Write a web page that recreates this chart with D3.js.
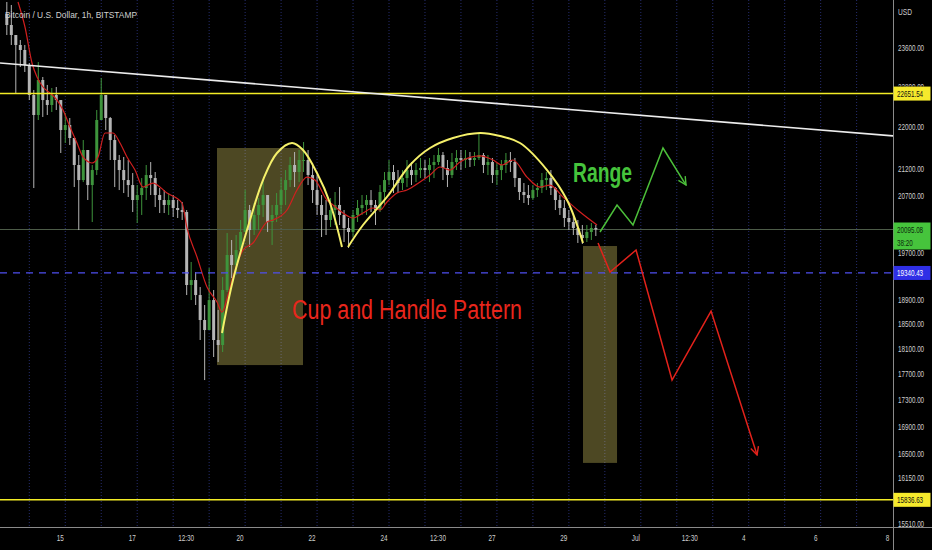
<!DOCTYPE html>
<html><head><meta charset="utf-8">
<script src="https://cdn.jsdelivr.net/npm/d3@7"></script>
<style>html,body{margin:0;padding:0;background:#000;overflow:hidden}svg{display:block}</style>
</head><body><svg id="c" width="932" height="550"></svg>
<script>
// ---------- DATA ----------
const title = "Bitcoin / U.S. Dollar, 1h, BITSTAMP";
// 3-hour candles, starting June 13 09:00 (day-of-June units)
const candleStartDay = 13.375;
const candleStepDays = 0.125;
const firstOpen = 24300;
const candleClose = [
24062,23851,23642,23538,23229,22623,22228,22924,22523,22425,
22623,22523,21936,22033,21782,21270,20990,21553,20898,21176,
22130,22623,22169,21743,21364,21176,20990,20898,20624,20715,
20843,21083,21027,20715,20624,20534,20624,20479,20443,20407,
19136,19220,18968,18555,18392,18884,18231,18151,19052,19649,
19476,19735,20051,20443,20086,20354,20534,20715,20228,20354,
20534,20806,20990,21270,21139,21364,21364,21083,20806,20534,
20354,20264,20443,20534,20354,20122,20051,20354,20479,20534,
20624,20534,20443,20770,20990,21139,20990,20935,21027,21176,
21083,21176,21214,21176,21270,21326,21458,21214,21083,21326,
21402,21364,21402,21364,21402,21458,21270,21326,21083,21176,
21270,21364,21326,21027,20770,20715,20660,20806,20843,20990,
21027,20843,20624,20479,20300,20228,20122,19998,19945,20051,
20122,20095];
const candleHigh = [
24555,24490,23788,23746,23642,23270,22723,23290,22985,22824,
22763,22783,22523,22267,22169,21782,21458,21743,21553,21270,
22326,22965,22623,22189,21840,21458,21421,21364,21120,20898,
21027,21270,21326,21139,20843,20806,20751,20715,20624,20588,
20443,19528,19356,19102,18802,19424,19052,18719,19271,20033,
19910,19998,20264,20806,20534,20570,20660,20990,20715,20534,
20751,21027,21176,21421,21515,21553,21705,21553,21308,21083,
20715,20624,20660,20770,20861,20443,20300,20443,20624,20715,
20715,20806,20624,20898,21139,21364,21270,21176,21176,21364,
21326,21308,21402,21364,21402,21458,21591,21515,21364,21496,
21553,21553,21553,21515,21515,21878,21496,21458,21402,21308,
21364,21496,21515,21402,21027,20935,20898,20898,20935,21120,
21139,21176,20861,20715,20624,20443,20354,20264,20175,20175,
20211,20175];
const candleLow = [
23851,23642,22663,23188,23086,22523,20843,22130,22189,22228,
22287,22326,21496,21686,21648,20861,20086,20953,20624,20228,
21083,22169,21936,21364,20861,20806,20751,20679,20407,20211,
20354,20624,20715,20497,20389,20389,20354,20318,20300,20264,
18968,18884,18802,18231,17599,18392,17960,17881,18039,19018,
19254,19305,19649,20051,19788,19998,20086,20318,20051,19823,
20228,20389,20534,20861,20861,20953,21139,20898,20570,20354,
19963,19998,20139,20175,20175,19875,19770,19963,20228,20354,
20354,20407,20175,20407,20534,20898,20751,20751,20806,20861,
20898,20953,21027,21027,20953,21027,21270,20990,20861,21027,
21176,21176,21214,21233,21251,21364,21120,21083,20935,20898,
20990,21120,21139,20861,20624,20570,20534,20624,20679,20751,
20806,20715,20443,20354,20139,20086,19998,19858,19840,19875,
19910,19980];

// moving average: [day, price]
const maLine = [
[13.686,24555],[13.880,24020],[14.075,23270],[14.214,22985],[14.381,22783],[14.575,22663],
[14.770,22523],[14.937,22326],[15.131,21994],[15.326,21686],[15.493,21421],[15.743,21308],
[15.910,21421],[16.105,21878],[16.327,21878],[16.522,21686],[16.716,21421],[16.939,21176],
[17.161,20861],[17.439,20935],[17.828,20751],[18.245,20570],[18.384,20122],[18.662,19614],
[18.940,19102],[19.218,18851],[19.357,18686],[19.524,18968],[19.663,19271],[19.941,19735],
[20.219,19858],[20.608,20228],[20.775,20264],[21.164,20443],[21.442,20806],[21.720,21045],
[21.942,20990],[22.276,20624],[22.443,20534],[22.721,20389],[22.999,20300],[23.277,20389],
[23.555,20479],[23.750,20443],[23.944,20588],[24.222,20751],[24.500,20806],[24.862,20953],
[25.140,21083],[25.418,21233],[25.696,21176],[25.974,21326],[26.530,21440],[26.891,21364],
[27.142,21270],[27.447,21364],[27.836,21045],[28.198,20861],[28.476,20898],[28.837,20679],
[29.310,20407],[29.783,20175]];

// price axis ticks (visible ones; 20100 and 19300 sit under the price tags)
const priceTicks = [23600,22800,22000,21200,20700,19700,18900,18500,18100,17700,17300,16900,16500,16150,15510];
// time axis labels [day-of-June, label]
const timeLabels = [[15,"15"],[17,"17"],[18.5,"12:30"],[20,"20"],[22,"22"],[24,"24"],[25.5,"12:30"],[27,"27"],[29,"29"],[31,"Jul"],[32.5,"12:30"],[34,"4"],[36,"6"],[38,"8"]];
const gridDays = [14,15,16,17,18,19,20,21,22,23,24,25,26,27,28,29,30,31,32,33,34,35,36,37];

// levels
const resistanceLevel = 22651.54;
const supportLevel = 15836.63;
const dashedLevel = 19340.43;
const lastPrice = 20095.08;
const countdown = "38:20";

// drawings
const trendLine = [[13.185,23270],[38.012,21822]];
const boxes = [
  {d0:19.218, d1:21.609, p0:21591, p1:17833},
  {d0:29.393, d1:30.339, p0:19805, p1:16360}];
const cupArc1 = [[19.357,18344],[19.663,19220],[20.136,20264],[20.497,20990],[20.886,21496],
  [21.303,21686],[21.609,21553],[21.998,21120],[22.360,20570],[22.693,19788]];
const cupArc2 = [[22.860,19788],[23.277,20175],[23.944,20679],[24.584,21270],[25.140,21591],
  [25.779,21782],[26.530,21878],[27.086,21820],[27.642,21686],[28.393,21176],[28.949,20624],[29.393,19858]];
const rangePath = [[29.866,20051],[30.339,20534],[30.783,20175],[31.617,21591],[32.257,20898]];
const dropPath = [[29.811,19858],[30.145,19356],[30.868,19735],[31.869,17599],[32.953,18702],[34.232,16475]];
const rangeText = {text:"Range", d:29.115, p:20953};
const patternText = {text:"Cup and Handle Pattern", d:21.303, p:18571};

// ---------- CHART ----------
const W = 932, H = 550, plotR = 893, plotB = 527;
const svg = d3.select('#c');
svg.append('rect').attr('width',W).attr('height',H).attr('fill','#000');
const x = d3.scaleLinear().domain([14,38]).range([29.3,892.6]);
const y = d3.scaleLog().domain([15462,24598]).range([plotB,0]);
const FONT = "'Liberation Sans', Arial, sans-serif";

const defs = svg.append('defs');
defs.append('clipPath').attr('id','plot').append('rect').attr('x',0).attr('y',0).attr('width',plotR).attr('height',plotB);
function marker(id,color){
  defs.append('marker').attr('id',id).attr('viewBox','0 0 10 10').attr('refX',9).attr('refY',5)
    .attr('markerWidth',10).attr('markerHeight',10).attr('markerUnits','userSpaceOnUse').attr('orient','auto')
    .append('path').attr('d','M1,1 L9,5 L1,9').attr('fill','none').attr('stroke',color).attr('stroke-width',1.4);
}
marker('arrG','#4cbf3a'); marker('arrR','#e3221b');

const g = svg.append('g').attr('clip-path','url(#plot)');

// grid
g.selectAll('line.grid').data(gridDays).join('line').attr('class','grid')
  .attr('x1',d=>x(d)).attr('x2',d=>x(d)).attr('y1',0).attr('y2',plotB)
  .attr('stroke','#262d6e').attr('stroke-width',1).attr('stroke-dasharray','1,2');

// boxes
g.selectAll('rect.box').data(boxes).join('rect').attr('class','box')
  .attr('x',d=>x(d.d0)).attr('width',d=>x(d.d1)-x(d.d0))
  .attr('y',d=>y(d.p0)).attr('height',d=>y(d.p1)-y(d.p0))
  .attr('fill','rgb(255,240,115)').attr('fill-opacity',0.3);

// last price line
g.append('line').attr('x1',0).attr('x2',plotR).attr('y1',y(lastPrice)).attr('y2',y(lastPrice))
  .attr('stroke','#4d5c48').attr('stroke-width',1);

// candles
const candles = candleClose.map((c,i)=>{
  const o = i===0 ? firstOpen : candleClose[i-1];
  return {t:candleStartDay+i*candleStepDays, o, c,
    h:Math.max(candleHigh[i],o,c), l:Math.min(candleLow[i],o,c)};
});
const cg = g.append('g');
const cs = cg.selectAll('g').data(candles).join('g');
const col = d=> d.c>=d.o ? '#3e943c' : '#b5b5b5';
cs.append('line').attr('x1',d=>x(d.t)).attr('x2',d=>x(d.t)).attr('y1',d=>y(d.h)).attr('y2',d=>y(d.l))
  .attr('stroke',col).attr('stroke-width',1);
cs.append('rect').attr('x',d=>x(d.t)-1.5).attr('width',3)
  .attr('y',d=>Math.min(y(d.o),y(d.c))).attr('height',d=>Math.max(1,Math.abs(y(d.o)-y(d.c))))
  .attr('fill',col);

// moving average
const line = d3.line().x(d=>x(d[0])).y(d=>y(d[1]));
g.append('path').datum(maLine).attr('d',line.curve(d3.curveMonotoneX))
  .attr('fill','none').attr('stroke','#d11f1f').attr('stroke-width',1.2);

// levels
[resistanceLevel,supportLevel].forEach(p=>{
  g.append('line').attr('x1',0).attr('x2',plotR).attr('y1',y(p)).attr('y2',y(p))
    .attr('stroke','#f3ec26').attr('stroke-width',1.5);
});
g.append('line').attr('x1',0).attr('x2',plotR).attr('y1',y(dashedLevel)).attr('y2',y(dashedLevel))
  .attr('stroke','#4f4ff0').attr('stroke-width',1.2).attr('stroke-dasharray','7,6');

// trend line
g.append('path').datum(trendLine).attr('d',d3.line().x(d=>x(d[0])).y(d=>y(d[1])))
  .attr('fill','none').attr('stroke','#ececec').attr('stroke-width',1.6);

// cup arcs
const arc = d3.line().x(d=>x(d[0])).y(d=>y(d[1])).curve(d3.curveCatmullRom);
[cupArc1,cupArc2].forEach(a=>{
  g.append('path').datum(a).attr('d',arc).attr('fill','none').attr('stroke','#f5f06a').attr('stroke-width',2);
});

// projection paths
const straight = d3.line().x(d=>x(d[0])).y(d=>y(d[1]));
g.append('path').datum(rangePath).attr('d',straight).attr('fill','none')
  .attr('stroke','#4cbf3a').attr('stroke-width',1.5).attr('marker-end','url(#arrG)');
g.append('path').datum(dropPath).attr('d',straight).attr('fill','none')
  .attr('stroke','#e3221b').attr('stroke-width',1.5).attr('marker-end','url(#arrR)');

// texts
function squeezeTo(sel, len){ sel.attr('textLength',len).attr('lengthAdjust','spacingAndGlyphs'); }

squeezeTo(g.append('text').attr('x',x(rangeText.d)).attr('y',y(rangeText.p)).text(rangeText.text)
  .attr('fill','#46c43c').attr('font-family',FONT).attr('font-size',27).attr('font-weight','bold'), 59);
squeezeTo(g.append('text').attr('x',x(patternText.d)).attr('y',y(patternText.p)).text(patternText.text)
  .attr('fill','#e8261c').attr('font-family',FONT).attr('font-size',27), 230);

// title
squeezeTo(svg.append('text').attr('x',5).attr('y',18).text(title)
  .attr('fill','#d0d0d0').attr('font-family',FONT).attr('font-size',9.5), 132);

// axes lines
svg.append('line').attr('x1',plotR+0.5).attr('x2',plotR+0.5).attr('y1',0).attr('y2',H).attr('stroke','#8a8a8a');
svg.append('line').attr('x1',0).attr('x2',W).attr('y1',plotB+0.5).attr('y2',plotB+0.5).attr('stroke','#8a8a8a');

// narrow text helper (horizontal scale via transform)
function narrowText(parent, tx, ty, sx, str, opts){
  const t = parent.append('text').attr('transform',`translate(${tx},${ty}) scale(${sx},1)`)
    .attr('x',0).attr('y',0).text(str)
    .attr('fill',opts.fill).attr('font-family',FONT).attr('font-size',opts.size);
  if(opts.anchor) t.attr('text-anchor',opts.anchor);
  return t;
}

// price axis labels (22800 partly hidden under its tag)
defs.append('clipPath').attr('id','axisTop').append('rect').attr('x',plotR).attr('y',0).attr('width',W-plotR).attr('height',y(resistanceLevel)-7);
const pAxis = svg.append('g');
priceTicks.forEach(p=>{
  const near = y(p) > y(resistanceLevel)-14 && y(p) < y(resistanceLevel);
  const parent = near ? pAxis.append('g').attr('clip-path','url(#axisTop)') : pAxis;
  narrowText(parent, 898, y(p)+3.5, 0.66, d3.format('.2f')(p), {fill:'#cfcfcf', size:9.5});
});
narrowText(svg, 898, 15, 0.78, 'USD', {fill:'#cfcfcf', size:8.5});

// time axis labels
const tAxis = svg.append('g');
timeLabels.forEach(d=>{
  narrowText(tAxis, x(d[0])-5, 541, 0.75, d[1], {fill:'#cfcfcf', size:8.5, anchor:'middle'});
});

// price tags on axis
function tag(p, fill, color, lines){
  const h = lines.length>1 ? 27 : 14;
  const top = y(p) - 7;
  svg.append('rect').attr('x',plotR+0.5).attr('y',top).attr('width',W-plotR-2).attr('height',h).attr('fill',fill);
  lines.forEach((t,k)=>{
    narrowText(svg, 897, top+10.5+k*12.5, 0.66, t, {fill:color, size:9.5});
  });
}
tag(resistanceLevel,'#f6ea2c','#111',[d3.format('.2f')(resistanceLevel)]);
tag(lastPrice,'#46c43c','#0d2a0d',[d3.format('.2f')(lastPrice), countdown]);
tag(dashedLevel,'#2f2fe6','#ffffff',[d3.format('.2f')(dashedLevel)]);
tag(supportLevel,'#f6ea2c','#111',[d3.format('.2f')(supportLevel)]);
</script></body></html>
